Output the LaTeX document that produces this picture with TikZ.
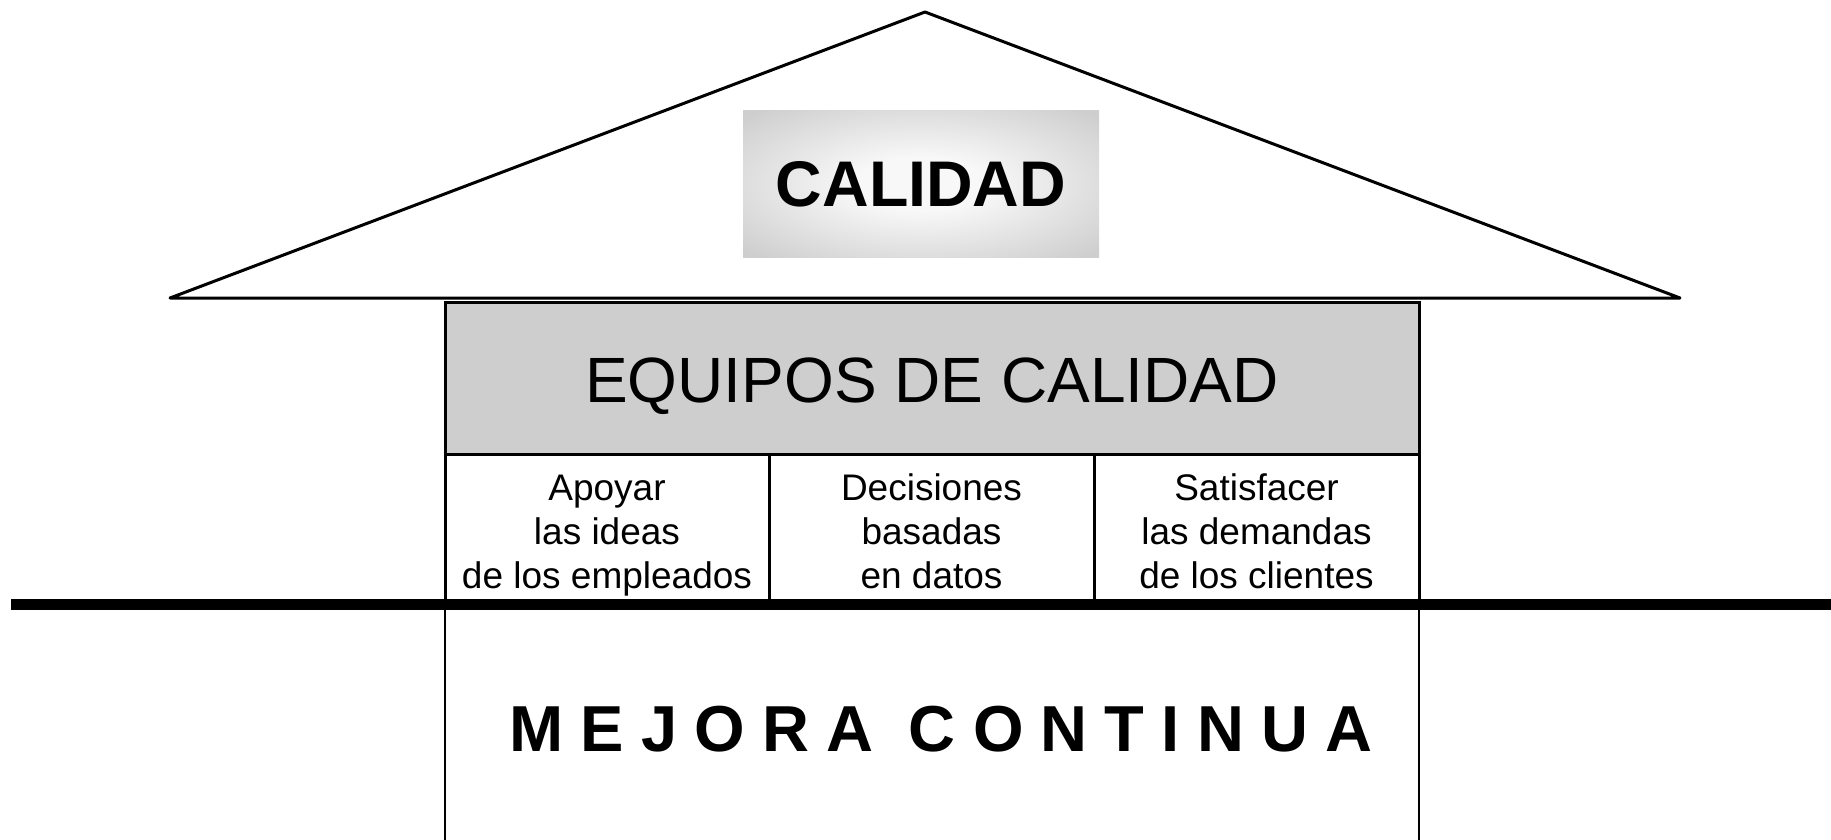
\documentclass[tikz,border=0pt]{standalone}
\usepackage{fontspec}
\setmainfont{Liberation Sans}
\definecolor{boxgray}{RGB}{206,206,206}
\definecolor{centergray}{RGB}{248,248,248}
\pgfdeclareradialshading{calshade}{\pgfpoint{0bp}{0bp}}{color(0bp)=(centergray); color(9bp)=(centergray); color(34bp)=(boxgray); color(50bp)=(boxgray)}
\tikzset{
  roofline/.style={draw=black, line width=3pt, line join=round},
  calbox/.style={shading=calshade, minimum width=356pt, minimum height=146pt, inner sep=0pt, font=\fontsize{64.5}{80}\selectfont\bfseries},
  eqbox/.style={draw=black, line width=3pt, fill=boxgray, minimum width=974pt, minimum height=152pt, inner sep=0pt},
  colbox/.style={draw=black, line width=3pt, fill=white, minimum height=150pt, inner sep=0pt},
  coltext/.style={align=center, inner sep=0pt, font=\fontsize{37}{44}\selectfont},
  ground/.style={line width=11pt},
  wall/.style={line width=2.6pt},
}
\begin{document}
\begin{tikzpicture}[x=1pt,y=-1pt]
\useasboundingbox (0,0) rectangle (1831,840);
% roof
\coordinate (apex) at (925,12);
\coordinate (roofL) at (170,298);
\coordinate (roofR) at (1680,298);
\draw[roofline] (roofL) -- (apex) -- (roofR) -- cycle;
% CALIDAD box
\node[calbox] (calidad) at (921,184) {CALIDAD};
% equipos
\node[eqbox] (equipos) at (932,378) {};
\node[inner sep=0pt, anchor=base, font=\fontsize{64}{78}\selectfont] (eqtext) at (932,402) {EQUIPOS DE CALIDAD};
% columns
\node[colbox, minimum width=324pt] (col1) at (607,529) {};
\node[colbox, minimum width=325pt] (col2) at (931.5,529) {};
\node[colbox, minimum width=325pt] (col3) at (1256.5,529) {};
\node[coltext] (t1) at (607,535.7) {\strut Apoyar\\las ideas\\de los empleados\strut};
\node[coltext] (t2) at (931.5,535.7) {\strut Decisiones\\basadas\\en datos\strut};
\node[coltext] (t3) at (1256.5,535.7) {\strut Satisfacer\\las demandas\\de los clientes\strut};
% ground line
\coordinate (groundL) at (11,604.5);
\coordinate (groundR) at (1831,604.5);
\draw[ground] (groundL) -- (groundR);
% bottom walls
\coordinate (wallLt) at (445,610);
\coordinate (wallLb) at (445,841);
\coordinate (wallRt) at (1419,610);
\coordinate (wallRb) at (1419,841);
\draw[wall] (wallLt) -- (wallLb);
\draw[wall] (wallRt) -- (wallRb);
% mejora continua
\node[inner sep=0pt, anchor=base, font=\fontsize{65}{78}\selectfont\bfseries\addfontfeature{LetterSpace=26.5}] (mejora) at (941,751) {MEJORA CONTINUA};
\end{tikzpicture}
\end{document}
